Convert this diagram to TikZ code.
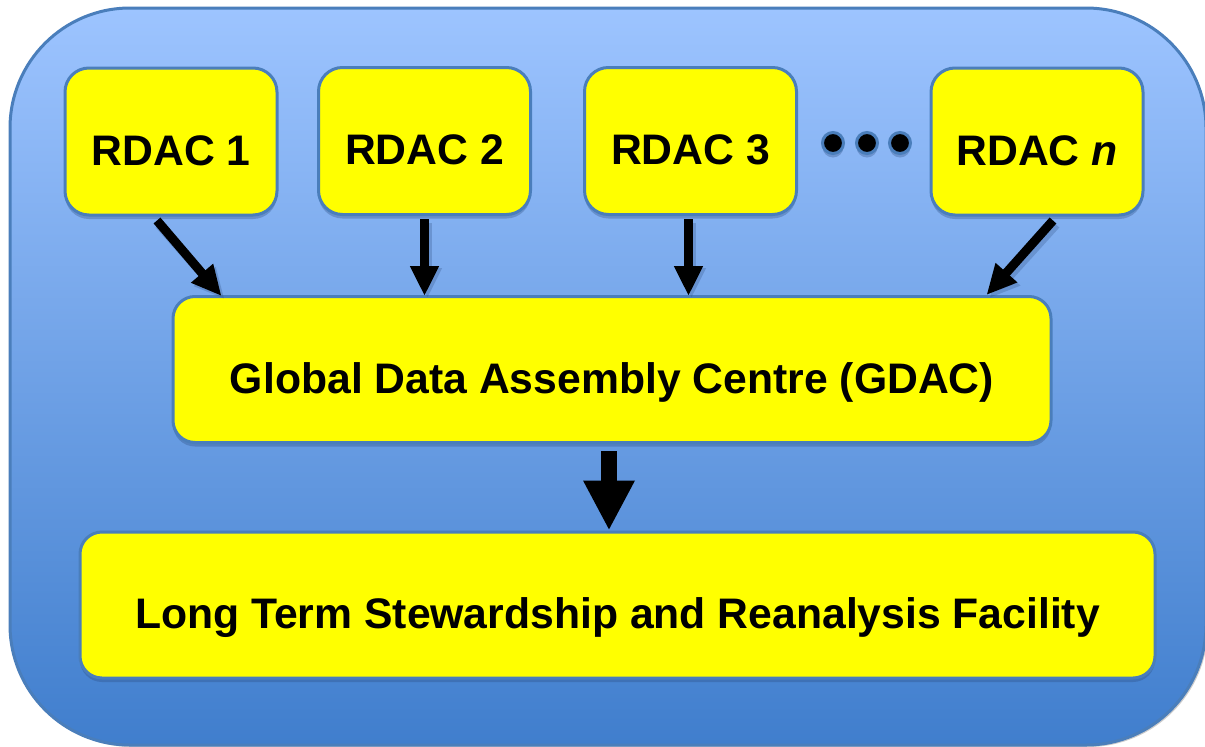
\documentclass[tikz,border=0pt]{standalone}
\usepackage{fontspec}
\setmainfont{Liberation Sans}
\usetikzlibrary{arrows.meta,shadows,calc}

\definecolor{frameblue}{RGB}{74,126,187}
\definecolor{skytop}{RGB}{157,196,255}
\definecolor{skybottom}{RGB}{64,126,205}
\definecolor{boxyellow}{RGB}{255,255,0}
\definecolor{shadowblue}{RGB}{40,70,120}

\tikzset{
  x=1pt, y=-1pt,
  boxshadow/.style={drop shadow={shadow xshift=0pt, shadow yshift=-4pt,
      fill=shadowblue, opacity=0.3}},
  unitbox/.style={draw=frameblue, line width=3pt, fill=boxyellow,
      rounded corners=24pt, boxshadow, inner sep=0pt,
      font=\fontsize{42.7}{50}\selectfont\bfseries,
      text height=47pt, text depth=0pt},
  rdac/.style={unitbox, minimum width=212pt, minimum height=147pt},
  wide/.style={unitbox, rounded corners=22pt, minimum height=146pt},
  flow/.style={line width=9pt, black,
      -{Triangle[width=27pt, length=30pt]}},
  flowshade/.style={line width=9pt, shadowblue, opacity=0.25,
      -{Triangle[width=27pt, length=30pt]}},
  bigflow/.style={line width=16pt, black,
      -{Triangle[width=48pt, length=50pt]}},
  dotmark/.style={circle, fill=black, draw=frameblue, line width=3pt,
      minimum size=21pt, inner sep=0pt, boxshadow},
}

\begin{document}
\begin{tikzpicture}
\useasboundingbox (0,0) rectangle (1205,747);

% outer panel with vertical gradient
\draw[frameblue, line width=3pt, rounded corners=120pt,
      top color=skytop, bottom color=skybottom,
      drop shadow={shadow xshift=2pt, shadow yshift=-2pt, fill=black!40, opacity=0.5}]
  (10,8) rectangle (1206,745);

% regional centres
\node[rdac] (r1) at (171,141.5) {RDAC 1};
\node[rdac] (r2) at (424.5,141) {RDAC 2};
\node[rdac] (r3) at (690.5,141) {RDAC 3};
\node[rdac] (rn) at (1037,141.5) {RDAC \textit{n}};

% ellipsis between RDAC 3 and RDAC n
\node[dotmark] (d1) at (833,143) {};
\node[dotmark] (d2) at (867,143) {};
\node[dotmark] (d3) at (900,143) {};

% global centre and long-term facility
\node[wide, minimum width=878pt] (g) at (612,369.5) {Global Data Assembly Centre (GDAC)};
\node[wide, minimum width=1075pt] (l) at (617.5,605) {Long Term Stewardship and Reanalysis Facility};

% arrow shadows
\draw[flowshade] ($(r1.south)+(-12,8)$) -- ($(g.north west)+(53,4)$);
\draw[flowshade] ($(r2.south)+(3,7)$) -- ($(r2.south |- g.north)+(3,3)$);
\draw[flowshade] ($(r3.south)+(1,7)$) -- ($(r3.south |- g.north)+(1,3)$);
\draw[flowshade] ($(rn.south)+(19,8)$) -- ($(g.north east)+(-63,3)$);

% arrows into the GDAC
\draw[flow] ($(r1.south)+(-14,4)$) -- ($(g.north west)+(50,1)$);
\draw[flow] ($(r2.south)+(0,3)$) -- ($(r2.south |- g.north)+(0,1)$);
\draw[flow] ($(r3.south)+(-2,3)$) -- ($(r3.south |- g.north)+(-2,1)$);
\draw[flow] ($(rn.south)+(16,4)$) -- ($(g.north east)+(-66,0)$);

% arrow from the GDAC to the facility
\draw[bigflow] ($(g.south)+(-3,7)$) -- ($(g.south |- l.north)+(-3,0)$);
\end{tikzpicture}
\end{document}
